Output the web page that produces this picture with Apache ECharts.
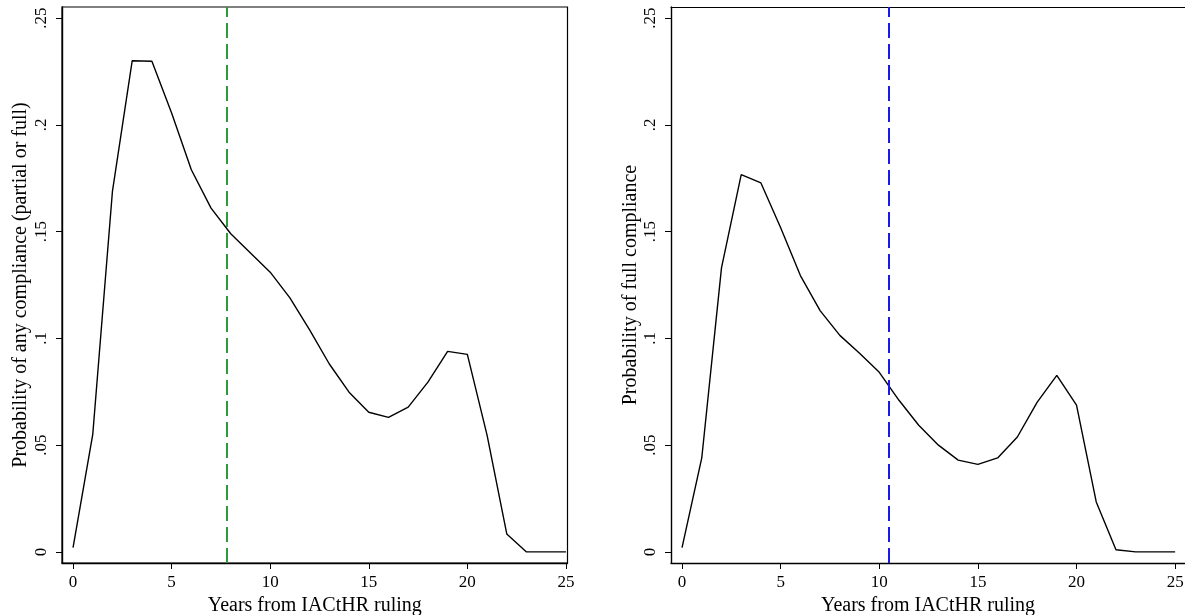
<!DOCTYPE html>
<html>
<head>
<meta charset="utf-8">
<script src="https://cdn.jsdelivr.net/npm/echarts@6/dist/echarts.min.js"></script>
<style>
html,body{margin:0;padding:0;background:#fff;}
#chart{width:1185px;height:615px;}
</style>
</head>
<body>
<div id="chart"></div>
<script>
var years = [0,1,2,3,4,5,6,7,8,9,10,11,12,13,14,15,16,17,18,19,20,21,22,23,24,25];
var anyCompliance = [0.002,0.055,0.169,0.230,0.2298,0.2056,0.179,0.161,0.149,0.140,0.131,0.119,0.104,0.088,0.0748,0.0654,0.063,0.0678,0.0795,0.0939,0.0925,0.0547,0.0084,0,0,0];
var fullCompliance = [0.002,0.044,0.133,0.1767,0.1728,0.1518,0.1294,0.113,0.1014,0.093,0.0841,0.071,0.0593,0.050,0.043,0.041,0.044,0.0538,0.070,0.0827,0.0687,0.0234,0.001,0,0,0];
var cutoffAny = 7.82;
var cutoffFull = 10.5;
var xTickValues = [0,5,10,15,20,25];
var yTickValues = [0,0.05,0.1,0.15,0.2,0.25];
var yTickLabels = ['0','.05','.1','.15','.2','.25'];
var xTitle = 'Years from IACtHR ruling';
var yTitleAny = 'Probability of any compliance (partial or full)';
var yTitleFull = 'Probability of full compliance';

var FONT = 'Liberation Serif';
function yFmt(v){
  for (var i=0;i<yTickValues.length;i++){ if (Math.abs(v-yTickValues[i])<1e-6) return yTickLabels[i]; }
  return '';
}
function pairs(vals){ return years.map(function(y,i){ return [y, vals[i]]; }); }

function xAx(idx, max){
  return {
    type:'value', gridIndex:idx, min:-0.56, max:max,
    name: xTitle, nameLocation:'middle', nameGap:31,
    nameTextStyle:{fontFamily:FONT, fontSize:20, color:'#000'},
    axisLine:{show:true, onZero:false, lineStyle:{color:'#000', width:1.4}},
    axisTick:{show:true, length:6, customValues:xTickValues, lineStyle:{color:'#000', width:1}},
    axisLabel:{customValues:xTickValues, margin:11, fontFamily:FONT, fontSize:17, color:'#000'},
    splitLine:{show:false}
  };
}
function topAx(idx, max){
  return {
    type:'value', gridIndex:idx, position:'top', min:-0.56, max:max,
    axisLine:{show:true, onZero:false, lineStyle:{color:'#000', width:1.2}},
    axisTick:{show:false}, axisLabel:{show:false}, splitLine:{show:false}
  };
}
function yAx(idx, name, gap){
  return {
    type:'value', gridIndex:idx, min:-0.0052, max:0.2552,
    name: name, nameLocation:'middle', nameGap:gap,
    nameTextStyle:{fontFamily:FONT, fontSize:20, color:'#000'},
    axisLine:{show:true, onZero:false, lineStyle:{color:'#000', width:1.4}},
    axisTick:{show:true, length:6, customValues:yTickValues, lineStyle:{color:'#000', width:1}},
    axisLabel:{customValues:yTickValues, rotate:90, margin:12, formatter:yFmt, fontFamily:FONT, fontSize:17, color:'#000'},
    splitLine:{show:false}
  };
}
function lineSeries(idx, vals, cut, col){
  return {
    type:'line', xAxisIndex:idx, yAxisIndex:idx, data:pairs(vals),
    showSymbol:false, symbol:'none', silent:true,
    lineStyle:{color:'#000', width:1.4},
    markLine:{
      silent:true, symbol:['none','none'], label:{show:false},
      lineStyle:{color:col, width:2, type:[15,6]},
      data:[{xAxis:cut}]
    },
    z:3
  };
}

var chart = echarts.init(document.getElementById('chart'), null, {renderer:'canvas'});
chart.setOption({
  animation:false,
  backgroundColor:'#fff',
  grid:[
    {left:62, top:7, width:505.5, height:556, show:true, borderColor:'#000', borderWidth:1.2, containLabel:false, outerBoundsMode:'none'},
    {left:671, top:7, width:514, height:556, show:false, containLabel:false, outerBoundsMode:'none'}
  ],
  xAxis:[xAx(0, 25.08), xAx(1, 25.5), topAx(1, 25.5)],
  yAxis:[yAx(0, yTitleAny, 31), yAx(1, yTitleFull, 27)],
  series:[lineSeries(0, anyCompliance, cutoffAny, '#2f9a3a'), lineSeries(1, fullCompliance, cutoffFull, '#1a1ae6')]
});
</script>
</body>
</html>
